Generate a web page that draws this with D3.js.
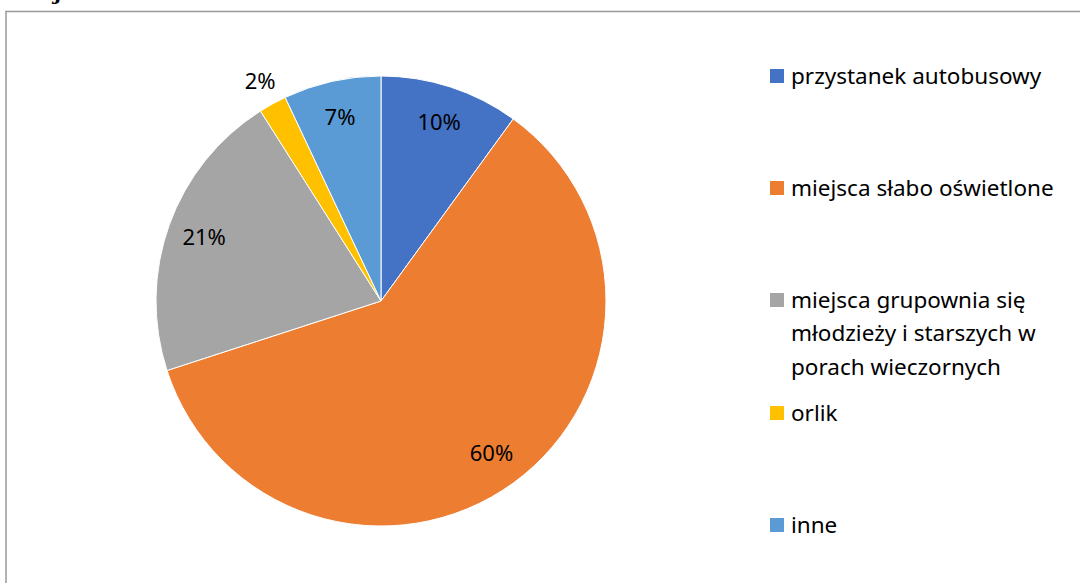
<!DOCTYPE html>
<html lang="pl">
<head>
<meta charset="UTF-8">
<title>Wykres</title>
<script src="https://d3js.org/d3.v7.min.js"></script>
<style>
  body { margin: 0; background: #fff; }
  svg { display: block; }
  text { font-family: "Noto Sans", "Open Sans", sans-serif; fill: #000; }
</style>
</head>
<body>
<svg id="chart" width="1080" height="583"></svg>
<script>
  // dane wykresu
  const categories = [
    "przystanek autobusowy",
    "miejsca słabo oświetlone",
    "miejsca grupownia się młodzieży i starszych w porach wieczornych",
    "orlik",
    "inne"
  ]
  const values = [10, 60, 21, 2, 7]
  const colors = ["#4472C4", "#ED7D31", "#A5A5A5", "#FFC000", "#5B9BD5"]
  const labelText = ["10%", "60%", "21%", "2%", "7%"]
  const legendY = [76, 188, 300, 413, 525]

  const svg = d3.select("#chart")

  // ramka
  svg.append("rect")
    .attr("x", 6).attr("y", 11.5)
    .attr("width", 1100).attr("height", 620)
    .attr("fill", "none")
    .attr("stroke", "#999")
    .attr("stroke-width", 1.5)

  // ucięty fragment tytułu nad ramką
  svg.append("text")
    .attr("x", 55).attr("y", 0)
    .style("font-family", "'DejaVu Serif', serif")
    .style("font-weight", "bold")
    .style("font-style", "italic")
    .style("font-size", "20px")
    .text("j")

  const cx = 381, cy = 301, r = 225

  const pie = d3.pie().sort(null).value(d => d)
  const arcs = pie(values)
  const arc = d3.arc().innerRadius(0).outerRadius(r)

  const g = svg.append("g").attr("transform", `translate(${cx},${cy})`)

  g.selectAll("path")
    .data(arcs)
    .enter().append("path")
    .attr("d", arc)
    .attr("fill", (d, i) => colors[i])
    .attr("stroke", "#fff")
    .attr("stroke-width", 1)

  // etykiety - wewnątrz, małe wycinki na zewnątrz
  const inner = d3.arc().innerRadius(188).outerRadius(188)
  const outer = d3.arc().innerRadius(251).outerRadius(251)

  g.selectAll("text.lbl")
    .data(arcs)
    .enter().append("text")
    .attr("class", "lbl")
    .attr("transform", d => {
      const c = (d.data < 5 ? outer : inner).centroid(d)
      return `translate(${c[0]},${c[1]})`
    })
    .attr("text-anchor", "middle")
    .attr("dy", "0.35em")
    .style("font-size", "22px")
    .text((d, i) => labelText[i])

  // legenda
  const legend = svg.append("g")
  const maxW = 285
  const lineH = 33.5
  categories.forEach((name, i) => {
    const item = legend.append("g").attr("transform", `translate(770,${legendY[i]})`)
    item.append("rect")
      .attr("x", 0).attr("y", -7)
      .attr("width", 14).attr("height", 14)
      .attr("fill", colors[i])
    const t = item.append("text")
      .style("font-size", "22.5px")
    // zawijanie tekstu
    const words = name.split(" ")
    let line = []
    let lineNo = 0
    const addLine = n => t.append("tspan").attr("x", 21).attr("y", n * lineH).attr("dy", "0.35em")
    let tspan = addLine(0)
    words.forEach(w => {
      line.push(w)
      tspan.text(line.join(" "))
      if (tspan.node().getComputedTextLength() > maxW && line.length > 1) {
        line.pop()
        tspan.text(line.join(" "))
        line = [w]
        lineNo++
        tspan = addLine(lineNo).text(w)
      }
    })
  })
</script>
</body>
</html>
